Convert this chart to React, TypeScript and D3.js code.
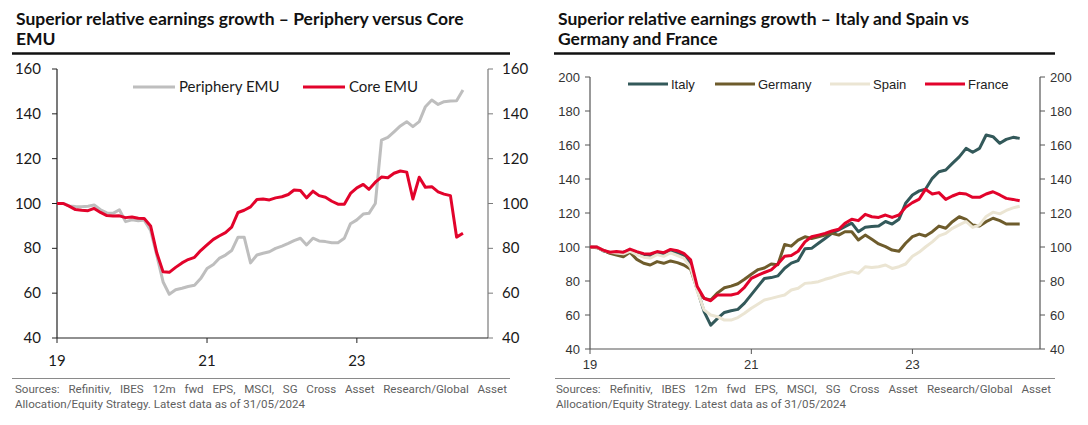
import React from 'react';
import * as d3 from 'd3';

const START = new Date(2019, 0, 1);

// Left chart: Periphery vs Core EMU (monthly, from Jan 2019)
const periphery = [
  100, 100, 98.9, 98.7, 98.6, 98.8, 99.3, 97.2, 95.8, 95.6,
  97.2, 91.9, 92.7, 92.3, 92.6, 88, 77, 65, 59.5, 61.5,
  62.2, 63, 63.5, 66.5, 71, 72.8, 75.5, 77, 79, 85,
  85, 73.5, 77, 77.8, 78.5, 80, 81, 82.2, 83.4, 84.5,
  81.5, 84.5, 83.3, 83, 82.5, 82.5, 84.5, 91, 92.7, 95.3,
  95.6, 100, 128.3, 129.5, 132, 134.6, 136.5, 134.3, 136.5, 143.2,
  146.2, 144.2, 145.4, 145.7, 145.8, 150.6,
];
const coreEmu = [
  100, 100, 98.8, 97.3, 97, 96.8, 97.8, 96, 94.6, 94.4,
  94.5, 93.7, 94, 93.4, 93.3, 90, 78, 69.5, 69.3, 71.5,
  73.5, 75, 76, 79, 81.5, 84, 85.5, 87, 89.5, 96,
  97, 98.5, 101.8, 102, 101.6, 102.5, 103, 104, 106, 105.8,
  102.5, 105.5, 103.5, 102.8, 101, 99.7, 99.7, 104.5, 107, 108.5,
  106.3, 109.5, 111.8, 111.5, 113.5, 114.5, 114, 102, 111.7, 107.2,
  107.5, 105.2, 104.2, 103.5, 85, 86.7,
];

// Right chart: Italy, Germany, Spain, France (monthly, from Jan 2019)
const italy = [
  100, 100, 97.8, 96.8, 96.8, 96.9, 98.2, 96.8, 95.4, 95,
  96.6, 95.7, 97.2, 96.2, 95, 90, 75, 62, 54, 58,
  61.5, 62.5, 63.3, 67, 72, 77, 81.5, 82, 83, 87.5,
  90.5, 92, 99, 99.2, 102.2, 105, 108, 110, 112, 114,
  109, 111.6, 112, 112.3, 115, 113.5, 116.3, 125.7, 130.6, 133,
  134, 140.4, 144.3, 145.3, 149.2, 153, 158, 155.7, 158, 165.9,
  164.9, 161, 163.3, 164.5, 163.9,
];
const germany = [
  100, 99.6, 98.2, 96.3, 95.3, 94.3, 96.9, 92.7, 90.4, 89.4,
  91.4, 90.4, 91.8, 90.8, 89.4, 86.9, 75, 69.8, 68.8, 73,
  76, 77, 78.4, 81, 84, 86.7, 87.6, 90, 89.6, 101.5,
  100.5, 104, 106, 105, 106, 107, 108, 107, 109, 109,
  104.1, 107, 104.5, 101.8, 100.2, 98.2, 97.5, 102.2, 106.1, 107.6,
  106.5, 109, 112.3, 111, 114.9, 117.8, 116.3, 112.9, 112.3, 114.9,
  116.9, 115.5, 113.5, 113.5, 113.5,
];
const spain = [
  100, 100, 98, 97, 96.5, 96, 97.5, 95.5, 94, 93.5,
  95.5, 94.5, 96.5, 95, 93.5, 88, 74, 63, 60, 59,
  57, 57, 58.5, 61, 64, 66.5, 68.8, 69.8, 70.8, 71.8,
  74.7, 75.7, 78.6, 79, 79.6, 81, 82.1, 83.5, 84.5, 85.5,
  84.5, 88.4, 88, 88.4, 89.4, 87.4, 88.4, 90, 94.5, 97,
  100, 103, 106.5, 108, 111, 113, 115, 111.5, 113, 118,
  120.5, 119.5, 121.5, 123, 124,
];
const france = [
  100, 100, 98.2, 96.9, 97.3, 96.9, 98.8, 97.3, 96.1, 95.9,
  97.3, 96.7, 98.6, 97.8, 96.3, 92.4, 76.7, 69.8, 68.4, 71.8,
  71.8, 71.8, 72.7, 76.3, 81.5, 83.5, 85, 86.5, 90, 94.5,
  95, 97.5, 103, 106, 107, 108, 109.4, 110.4, 113.9, 116.3,
  115.5, 119.2, 117.8, 117.4, 118.8, 117.4, 118.8, 123.3, 126.1, 128.2,
  133.9, 131.2, 132, 128, 130, 131.6, 131.2, 129.2, 129.2, 131.2,
  132.5, 130.6, 128.6, 128, 127.2,
];

const leftYTicks = [40, 60, 80, 100, 120, 140, 160];
const rightYTicks = [40, 60, 80, 100, 120, 140, 160, 180, 200];
const xTickYears = [2019, 2021, 2023];
const xTickLabels = ['19', '21', '23'];

const leftTitle = ['Superior relative earnings growth – Periphery versus Core', 'EMU'];
const rightTitle = ['Superior relative earnings growth – Italy and Spain vs', 'Germany and France'];
const sourceLines = [
  'Sources: Refinitiv, IBES 12m fwd EPS, MSCI, SG Cross Asset Research/Global Asset',
  'Allocation/Equity Strategy. Latest data as of 31/05/2024',
];

const leftSeries = [
  { name: 'Periphery EMU', values: periphery, color: '#BEBEBE' },
  { name: 'Core EMU', values: coreEmu, color: '#E2032B' },
];
const rightSeries = [
  { name: 'Italy', values: italy, color: '#33595A' },
  { name: 'Germany', values: germany, color: '#6E5C2C' },
  { name: 'Spain', values: spain, color: '#EBE5D3' },
  { name: 'France', values: france, color: '#E2032B' },
];

let ctx: CanvasRenderingContext2D | null = null;
function measure(text: string, font: string): number {
  if (!ctx) ctx = document.createElement('canvas').getContext('2d');
  if (!ctx) return text.length * 7;
  ctx.font = font;
  return ctx.measureText(text).width;
}
function fitSize(text: string, family: string, weight: number, target: number) {
  return (100 * target) / measure(text, `${weight} 100px ${family}`);
}

const TITLE_FAMILY = 'Lato';
const SRC_FAMILY = 'Roboto';

function Header({ x0, x1, lines, size }: { x0: number; x1: number; lines: string[]; size: number }) {
  return (
    <g>
      {lines.map((t, i) => (
        <text key={i} x={x0 + 4} y={25 + i * 20} fontFamily={TITLE_FAMILY} fontWeight={700} fontSize={size} fill="#111">
          {t}
        </text>
      ))}
      <line x1={x0} x2={x1} y1={53.5} y2={53.5} stroke="#111" strokeWidth={2.5} />
    </g>
  );
}

function Footer({ x0, x1, tx0, tx1, size }: { x0: number; x1: number; tx0: number; tx1: number; size: number }) {
  const font = `400 ${size}px ${SRC_FAMILY}`;
  const words = sourceLines[0].split(' ');
  const natural = measure(sourceLines[0], font);
  const ws = (tx1 - tx0 - natural) / (words.length - 1);
  return (
    <g>
      <line x1={x0} x2={x1} y1={378.5} y2={378.5} stroke="#8a8a8a" strokeWidth={1} />
      <text x={tx0} y={393} fontFamily={SRC_FAMILY} fontSize={size} fill="#5f5f5f" style={{ wordSpacing: `${ws}px` }}>
        {sourceLines[0]}
      </text>
      <text x={tx0} y={407.5} fontFamily={SRC_FAMILY} fontSize={size} fill="#5f5f5f">
        {sourceLines[1]}
      </text>
    </g>
  );
}

function LeftChart() {
  const x = d3.scaleTime().domain([START, new Date(2024, 9, 1)]).range([57, 488]);
  const y = d3.scaleLinear().domain([40, 160]).range([338, 69]);
  const line = d3
    .line<number>()
    .x((_, i) => x(d3.timeMonth.offset(START, i)))
    .y((d) => y(d));
  const font = 'Lato';
  const legendX = [133, 303];
  return (
    <g>
      <line x1={57} x2={57} y1={y(160)} y2={y(40)} stroke="#222" strokeWidth={1.2} />
      <line x1={488} x2={488} y1={y(160)} y2={y(40)} stroke="#7a7a7a" strokeWidth={1.2} />
      <line x1={57} x2={488} y1={y(40)} y2={y(40)} stroke="#222" strokeWidth={1.2} />
      {leftYTicks.map((t) => (
        <g key={t}>
          <line x1={52} x2={57} y1={y(t)} y2={y(t)} stroke="#222" />
          <line x1={488} x2={493} y1={y(t)} y2={y(t)} stroke="#7a7a7a" />
          <text x={41} y={y(t) + 5} textAnchor="end" fontFamily={font} fontSize={15} fill="#1a1a1a">{t}</text>
          <text x={502} y={y(t) + 5} textAnchor="start" fontFamily={font} fontSize={15} fill="#1a1a1a">{t}</text>
        </g>
      ))}
      {xTickYears.map((yr, i) => {
        const px = x(new Date(yr, 0, 1));
        return (
          <g key={yr}>
            <line x1={px} x2={px} y1={338} y2={343} stroke="#222" />
            <text x={px} y={366} textAnchor="middle" fontFamily={font} fontSize={15} fill="#1a1a1a">{xTickLabels[i]}</text>
          </g>
        );
      })}
      {leftSeries.map((s) => (
        <path key={s.name} d={line(s.values) || ''} fill="none" stroke={s.color} strokeWidth={3} strokeLinejoin="round" />
      ))}
      {leftSeries.map((s, i) => (
        <g key={s.name}>
          <line x1={legendX[i]} x2={legendX[i] + 42} y1={87} y2={87} stroke={s.color} strokeWidth={3} />
          <text x={legendX[i] + 46} y={92} fontFamily={font} fontSize={15} fill="#1a1a1a">{s.name}</text>
        </g>
      ))}
    </g>
  );
}

function RightChart() {
  const x = d3.scaleTime().domain([START, new Date(2024, 7, 1)]).range([590, 1040]);
  const y = d3.scaleLinear().domain([40, 200]).range([349, 77]);
  const line = d3
    .line<number>()
    .x((_, i) => x(d3.timeMonth.offset(START, i)))
    .y((d) => y(d));
  const font = '"Liberation Sans", Arial, sans-serif';
  const legendX = [628, 715, 830, 925];
  return (
    <g>
      <line x1={590} x2={590} y1={y(200)} y2={y(40)} stroke="#555" strokeWidth={1.2} />
      <line x1={1040} x2={1040} y1={y(200)} y2={y(40)} stroke="#555" strokeWidth={1.2} />
      <line x1={590} x2={1040} y1={y(40)} y2={y(40)} stroke="#555" strokeWidth={1.2} />
      {rightYTicks.map((t) => (
        <g key={t}>
          <line x1={585} x2={590} y1={y(t)} y2={y(t)} stroke="#555" />
          <line x1={1040} x2={1045} y1={y(t)} y2={y(t)} stroke="#555" />
          <text x={580} y={y(t) + 4.5} textAnchor="end" fontFamily={font} fontSize={13} fill="#333">{t}</text>
          <text x={1050} y={y(t) + 4.5} textAnchor="start" fontFamily={font} fontSize={13} fill="#333">{t}</text>
        </g>
      ))}
      {xTickYears.map((yr, i) => {
        const px = x(new Date(yr, 0, 1));
        return (
          <g key={yr}>
            <line x1={px} x2={px} y1={349} y2={354} stroke="#555" />
            <text x={px} y={369} textAnchor="middle" fontFamily={font} fontSize={13} fill="#333">{xTickLabels[i]}</text>
          </g>
        );
      })}
      {rightSeries.map((s) => (
        <path key={s.name} d={line(s.values) || ''} fill="none" stroke={s.color} strokeWidth={3} strokeLinejoin="round" />
      ))}
      {rightSeries.map((s, i) => (
        <g key={s.name}>
          <line x1={legendX[i]} x2={legendX[i] + 40} y1={84} y2={84} stroke={s.color} strokeWidth={3} />
          <text x={legendX[i] + 43} y={88.5} fontFamily={font} fontSize={13} fill="#222">{s.name}</text>
        </g>
      ))}
    </g>
  );
}

export default function App() {
  const titleSize = Math.min(17.5, fitSize(leftTitle[0], TITLE_FAMILY, 700, 456));
  const srcSize = Math.min(13.5, fitSize(sourceLines[1], SRC_FAMILY, 400, 290));
  return (
    <svg
      width={1088}
      height={425}
      style={{ position: 'absolute', left: 0, top: 0, background: '#fff', display: 'block' }}
    >
      <rect width={1088} height={425} fill="#fff" />
      <Header x0={12} x1={510} lines={leftTitle} size={titleSize} />
      <Header x0={554} x1={1055} lines={rightTitle} size={titleSize} />
      <LeftChart />
      <RightChart />
      <Footer x0={12} x1={510} tx0={15} tx1={507} size={srcSize} />
      <Footer x0={555} x1={1055} tx0={556} tx1={1051} size={srcSize} />
    </svg>
  );
}
